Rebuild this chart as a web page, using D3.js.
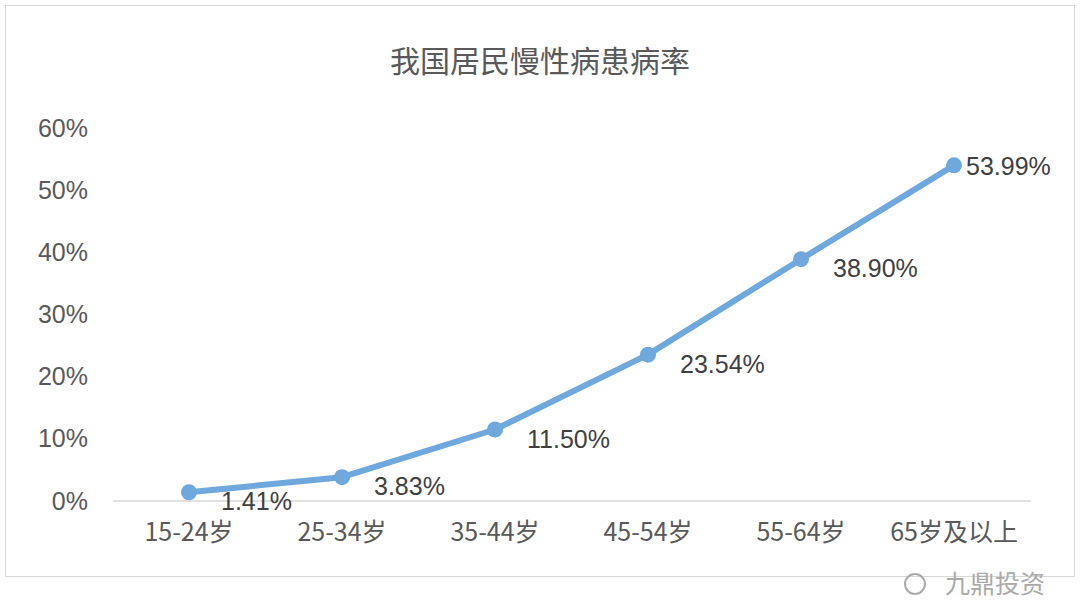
<!DOCTYPE html>
<html><head><meta charset="utf-8">
<script src="https://cdn.jsdelivr.net/npm/d3@7"></script>
<style>body{margin:0;background:#fff}text{font-family:"Noto Sans CJK SC","Liberation Sans",sans-serif}text.num{font-family:"Liberation Sans",sans-serif}</style>
</head><body><svg id="chart"></svg>
<script>
let categories = ["15-24岁", "25-34岁", "35-44岁", "45-54岁", "55-64岁", "65岁及以上"]
let values = [1.41, 3.83, 11.50, 23.54, 38.90, 53.99]
let yTicks = [0, 10, 20, 30, 40, 50, 60]

let width = 1080, height = 608
let svg = d3.select("#chart").attr("width", width).attr("height", height)

svg.append("rect").attr("x", 5.5).attr("y", 5.5).attr("width", 1069).attr("height", 571)
  .attr("fill", "#fff").attr("stroke", "#d9d9d9")

svg.append("text").attr("x", 540).attr("y", 72).attr("text-anchor", "middle")
  .attr("font-size", 30).attr("fill", "#595959").text("我国居民慢性病患病率")

let xScale = d3.scalePoint().domain(categories).range([189, 954])
let yScale = d3.scaleLinear().domain([0, 60]).range([501, 128])

let xAxis = svg.append("g").attr("transform", "translate(0,501)")
  .call(d3.axisBottom(xScale).tickSize(0).tickPadding(22).offset(0))
xAxis.select(".domain").attr("d", "M113,0H1031").attr("stroke", "#d9d9d9").attr("stroke-width", 1.5)
xAxis.selectAll("text").attr("font-size", 25).attr("fill", "#595959")

let yAxis = svg.append("g").attr("transform", "translate(88,0)")
  .call(d3.axisLeft(yScale).tickValues(yTicks).tickFormat(d => d + "%").tickSize(0).tickPadding(0))
yAxis.select(".domain").remove()
yAxis.selectAll("text").attr("class", "num").attr("font-size", 25).attr("fill", "#595959")

let line = d3.line().x((d, i) => xScale(categories[i])).y(d => yScale(d))
svg.append("path").datum(values).attr("d", line).attr("fill", "none")
  .attr("stroke", "#6fa8dc").attr("stroke-width", 6).attr("stroke-linejoin", "round")

svg.selectAll("circle.pt").data(values).enter().append("circle")
  .attr("cx", (d, i) => xScale(categories[i])).attr("cy", d => yScale(d))
  .attr("r", 8).attr("fill", "#6fa8dc")

svg.selectAll("text.lbl").data(values).enter().append("text")
  .attr("class", "num")
  .attr("x", (d, i) => xScale(categories[i]) + (i == 5 ? 12 : 32))
  .attr("y", (d, i) => yScale(d) + (i == 5 ? 10 : 18))
  .attr("font-size", 25).attr("fill", "#404040")
  .text(d => d.toFixed(2) + "%")

svg.append("text").attr("x", 1045).attr("y", 593).attr("text-anchor", "end")
  .attr("font-size", 25).attr("fill", "#aaa").text("九鼎投资")
svg.append("circle").attr("cx", 915).attr("cy", 584).attr("r", 10).attr("fill", "none").attr("stroke", "#aaa").attr("stroke-width", 2)
</script></body></html>
